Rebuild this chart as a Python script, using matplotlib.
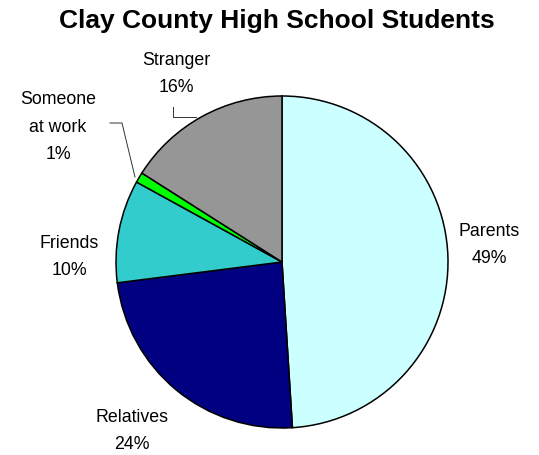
import matplotlib.pyplot as plt

# slice data, clockwise from 12 o'clock
categories = ['Parents', 'Relatives', 'Friends', 'Someone\nat work', 'Stranger']
shares = [49, 24, 10, 1, 16]
colors = ['#CCFFFF', '#000080', '#33CCCC', '#00FF00', '#969696']

plt.rcParams['font.family'] = ['Liberation Sans', 'DejaVu Sans']

W, H = 539, 455
fig = plt.figure(figsize=(W / 100, H / 100), dpi=100)
ax = fig.add_axes([0, 0, 1, 1])

cx, cy, r = 282, H - 262, 166
ax.pie(shares, colors=colors, startangle=90, counterclock=False,
       center=(cx, cy), radius=r, frame=True,
       wedgeprops=dict(edgecolor='black', linewidth=1.1))
ax.set_xlim(0, W)
ax.set_ylim(0, H)
ax.set_aspect('equal')
ax.axis('off')

# label anchors (pixel coords, y from top)
label_pos = [(489, 245), (132, 431), (69, 257), (58, 127), (176, 74)]
for cat, val, (x, y) in zip(categories, shares, label_pos):
    ax.text(x, H - y, f'{cat}\n{val}%', ha='center', va='center',
            fontsize=12.8, linespacing=1.8)

# leader lines
ax.plot([110, 122, 135], [H - 123, H - 123, H - 177], color='#333333', lw=0.7)
ax.plot([173, 173, 196], [H - 107, H - 117, H - 117], color='#333333', lw=0.7)

fig.text(277 / W, 1 - 21 / H, 'Clay County High School Students',
         ha='center', va='center', fontsize=19, fontweight='bold')

fig.savefig('out.png', dpi=100)
